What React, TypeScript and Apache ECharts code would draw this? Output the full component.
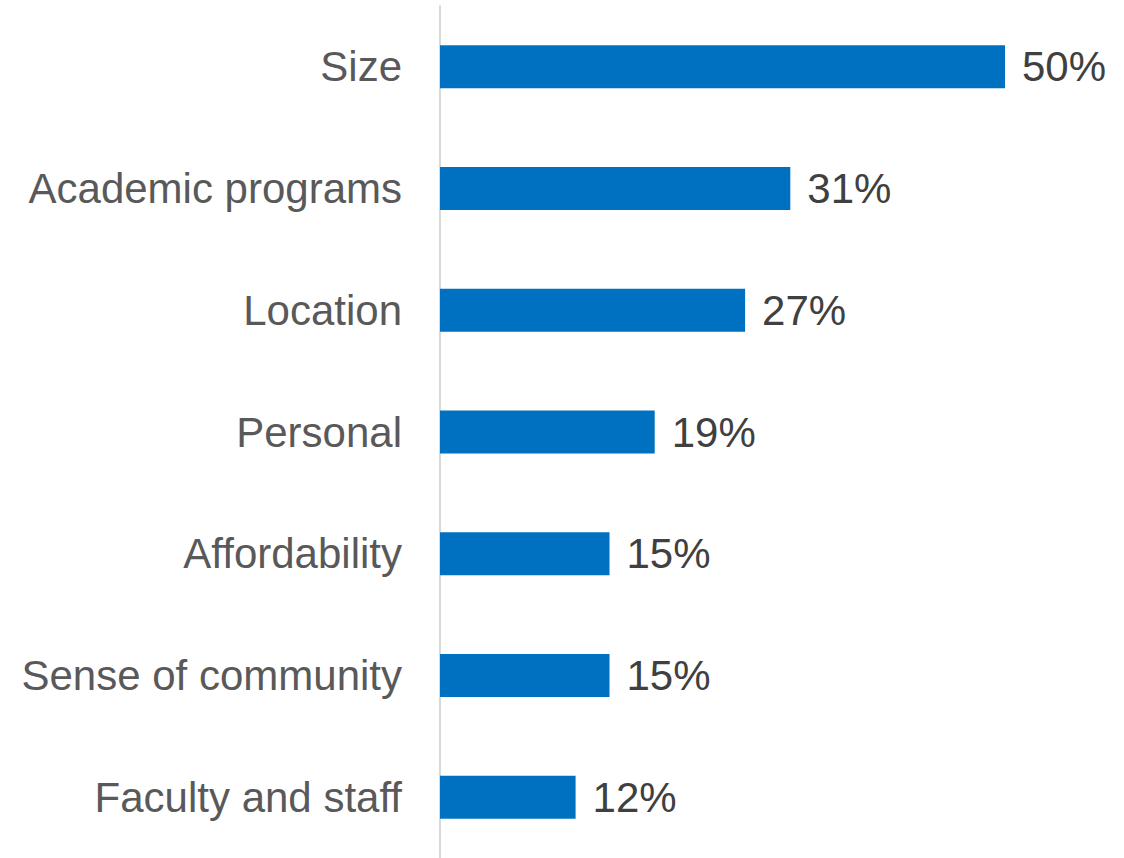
import React, { useEffect, useRef } from "react";
import * as echarts from "echarts";

const categories = [
  "Size",
  "Academic programs",
  "Location",
  "Personal",
  "Affordability",
  "Sense of community",
  "Faculty and staff",
];
const values = [50, 31, 27, 19, 15, 15, 12];

const FONT = "'Liberation Sans', Arial, Helvetica, sans-serif";

export default function App() {
  const ref = useRef<HTMLDivElement>(null);
  useEffect(() => {
    if (!ref.current) return;
    const chart = echarts.init(ref.current, null, { renderer: "svg" });
    chart.setOption({
      animation: false,
      backgroundColor: "#ffffff",
      grid: { left: 440, right: 119, top: 6, bottom: -4, containLabel: false },
      xAxis: {
        type: "value",
        min: 0,
        max: 50,
        show: false,
      },
      yAxis: {
        type: "category",
        data: categories,
        inverse: true,
        axisLine: { show: true, lineStyle: { color: "#d9d9d9", width: 2 } },
        axisTick: { show: false },
        axisLabel: {
          margin: 38,
          fontSize: 42,
          fontFamily: FONT,
          color: "#595959",
        },
      },
      series: [
        {
          type: "bar",
          data: values,
          barWidth: 43,
          itemStyle: { color: "#0070c0" },
          label: {
            show: true,
            position: "right",
            distance: 17,
            formatter: "{c}%",
            fontSize: 42,
            fontFamily: FONT,
            color: "#404040",
          },
        },
      ],
    });
    return () => chart.dispose();
  }, []);
  return (
    <div
      ref={ref}
      style={{ position: "absolute", left: 0, top: 0, width: 1124, height: 858 }}
    />
  );
}
